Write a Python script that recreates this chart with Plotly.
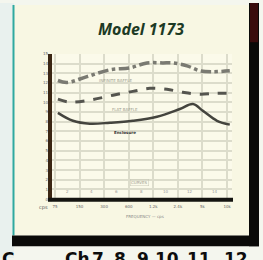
import plotly.graph_objects as go

W, H = 263, 260

# ---- data ----
x_labels = ["75", "150", "300", "600", "1.2k", "2.4k", "5k", "10k"]
y_ticks = list(range(0, 16))

top_x = [0.12, 0.49, 1.30, 2.24, 3.05, 3.74, 4.39, 4.80, 5.37, 5.89, 6.42, 7.11]
top_y = [12.26, 12.06, 12.66, 13.37, 13.57, 14.08, 14.08, 14.08, 13.78, 13.27, 13.17, 13.27]

mid_x = [0.12, 0.61, 1.42, 2.36, 3.17, 3.86, 4.55, 5.20, 5.89, 6.59, 7.11]
mid_y = [10.33, 10.03, 10.23, 10.74, 11.14, 11.45, 11.35, 11.04, 10.84, 10.94, 10.94]

low_x = [0.12, 0.73, 1.42, 2.24, 3.17, 4.15, 5.08, 5.61, 6.02, 6.59, 7.11]
low_y = [8.92, 8.10, 7.80, 7.90, 8.10, 8.51, 9.32, 9.83, 9.12, 8.10, 7.70]

inner_labels = ["2", "4", "6", "8", "10", "12", "14"]
inner_x = [0.5, 1.5, 2.5, 3.5, 4.5, 5.5, 6.5]

footer_words = ["C", "Ch", "7,", "8,", "9,", "10,", "11,", "12"]
footer_px = [8, 77, 101, 123, 146, 170, 202, 236]

def px(x):
    return x / W

def py(y):
    return 1 - y / H

fig = go.Figure()
fig.add_trace(go.Scatter(x=top_x, y=top_y, mode="lines", line=dict(color="#7a7a72", width=3.5, dash="dashdot", shape="spline"), hoverinfo="skip"))
fig.add_trace(go.Scatter(x=mid_x, y=mid_y, mode="lines", line=dict(color="#55554f", width=3, dash="dash", shape="spline"), hoverinfo="skip"))
fig.add_trace(go.Scatter(x=low_x, y=low_y, mode="lines", line=dict(color="#44443e", width=2.5, shape="spline"), hoverinfo="skip"))

shapes = [
    dict(type="rect", xref="paper", yref="paper", x0=0, x1=px(14), y0=0, y1=1, fillcolor="#e9f1ee", line_width=0, layer="below"),
    dict(type="rect", xref="paper", yref="paper", x0=px(13), x1=px(249), y0=py(237), y1=py(2), fillcolor="#f8f7e3", line_width=0, layer="below"),
    dict(type="line", xref="paper", yref="paper", x0=px(13.5), x1=px(13.5), y0=py(237), y1=py(2), line=dict(color="#2fa9a0", width=2), layer="below"),
    dict(type="rect", xref="paper", yref="paper", x0=px(52), x1=px(232), y0=py(200), y1=py(52), fillcolor="#fbfaea", line_width=0, layer="below"),
    # shadows (above so nothing covers them)
    dict(type="rect", xref="paper", yref="paper", x0=px(249), x1=px(259), y0=py(248), y1=py(0), fillcolor="#0a0a08", line_width=0, layer="above"),
    dict(type="rect", xref="paper", yref="paper", x0=px(12), x1=px(259), y0=py(248), y1=py(237), fillcolor="#0a0a08", line_width=0, layer="above"),
    dict(type="rect", xref="paper", yref="paper", x0=px(250), x1=px(258), y0=py(40), y1=py(0), fillcolor="#3a0c0c", line_width=0, layer="above"),
    dict(type="line", xref="paper", yref="paper", x0=px(50), x1=px(50), y0=py(202), y1=py(52), line=dict(color="#3b2613", width=4)),
    dict(type="line", xref="paper", yref="paper", x0=px(48), x1=px(233), y0=py(200.5), y1=py(200.5), line=dict(color="#141410", width=4)),
]

annotations = [
    dict(text="<b><i>Model 1173</i></b>", x=px(141), y=py(27), xref="paper", yref="paper", showarrow=False,
         font=dict(family="Open Sans", size=16, color="#1d3a25"), xanchor="center", yanchor="middle"),
    dict(text="cps", x=px(43), y=py(208), xref="paper", yref="paper", showarrow=False,
         font=dict(family="DejaVu Sans", size=5, color="#555"), xanchor="center", yanchor="middle"),
    dict(text="FREQUENCY — cps", x=px(145), y=py(218), xref="paper", yref="paper", showarrow=False,
         font=dict(family="DejaVu Sans", size=4, color="#888"), xanchor="center", yanchor="middle"),
    dict(text="INFINITE BAFFLE", x=2.45, y=12.3, showarrow=False, font=dict(family="DejaVu Sans", size=4, color="#a0a090")),
    dict(text="FLAT BAFFLE", x=2.85, y=9.3, showarrow=False, font=dict(family="DejaVu Sans", size=4, color="#a0a090")),
    dict(text="<b>Enclosure</b>", x=2.85, y=6.85, showarrow=False, font=dict(family="DejaVu Sans", size=4, color="#333")),
    dict(text="CURVES", x=3.45, y=1.7, showarrow=False, font=dict(family="DejaVu Sans", size=4, color="#a0a090"),
         bordercolor="#c8c8b8", borderwidth=0.5, borderpad=0.5),
]
for lbl, xv in zip(inner_labels, inner_x):
    annotations.append(dict(text=lbl, x=xv, y=0.8, showarrow=False, font=dict(family="DejaVu Sans", size=4, color="#999")))
for w, xv in zip(footer_words, footer_px):
    annotations.append(dict(text="<b>" + w + "</b>", x=px(xv), y=py(249), xref="paper", yref="paper", showarrow=False,
                            font=dict(family="DejaVu Sans", size=17, color="#0d0d0d"), xanchor="center", yanchor="top"))

fig.update_layout(
    width=W, height=H, margin=dict(l=0, r=0, t=0, b=0),
    paper_bgcolor="#f4f6ee", plot_bgcolor="rgba(0,0,0,0)",
    showlegend=False, shapes=shapes, annotations=annotations,
    xaxis=dict(domain=[px(52), px(232)], range=[-0.12, 7.2], tickvals=list(range(8)), ticktext=x_labels,
               showgrid=True, gridcolor="#dcdccb", gridwidth=1.5, zeroline=False, showline=False,
               tickfont=dict(family="DejaVu Sans", size=4, color="#666"), ticks="", ticklabelstandoff=4),
    yaxis=dict(domain=[py(200), py(52)], range=[0, 15], tickvals=y_ticks,
               showgrid=True, gridcolor="#dcdccb", gridwidth=1.5, zeroline=False, showline=False,
               tickfont=dict(family="DejaVu Sans", size=4, color="#666"), ticks="", ticklabelstandoff=3),
)

fig.write_html("out.html", config={"displayModeBar": False},
               post_script="document.body.style.margin='0';document.body.style.overflow='hidden';")
